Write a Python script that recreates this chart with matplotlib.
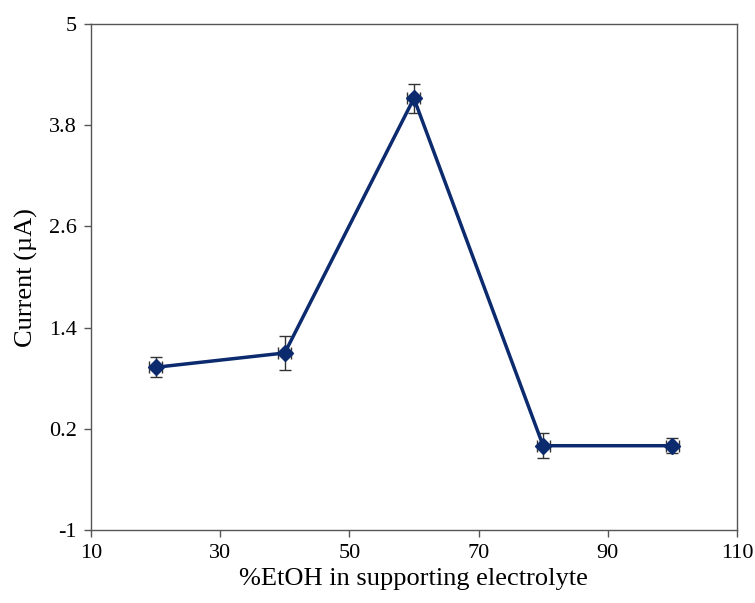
import matplotlib
matplotlib.use("Agg")
import matplotlib.pyplot as plt

# data
etoh = [20, 40, 60, 80, 100]
current = [0.93, 1.10, 4.12, 0.00, 0.00]
current_err = [0.12, 0.20, 0.17, 0.15, 0.09]
etoh_err = [1, 1, 1, 1, 1]

xticks = [10, 30, 50, 70, 90, 110]
yticks = [-1, 0.2, 1.4, 2.6, 3.8, 5]
ytick_labels = ['-1', '0.2', '1.4', '2.6', '3.8', '5']

plt.rcParams['font.family'] = ['Liberation Serif', 'DejaVu Serif']

fig = plt.figure(figsize=(7.55, 6.03), dpi=100)
ax = fig.add_axes([0.1205, 0.121, 0.8555, 0.839])

ax.errorbar(etoh, current, yerr=current_err, xerr=etoh_err, fmt='none',
            ecolor='#333333', elinewidth=1.0, capsize=4, capthick=1.0, zorder=2)
ax.plot(etoh, current, color='#0c2a6e', linewidth=2.5, marker='D',
        markersize=8, markerfacecolor='#0c2a6e', markeredgecolor='#0c2a6e',
        zorder=3)

ax.set_xlim(10, 110)
ax.set_ylim(-1, 5)
ax.set_xticks(xticks)
ax.set_yticks(yticks)
ax.set_yticklabels(ytick_labels)
ax.tick_params(direction='out', length=5, width=1, color='#555555',
               labelsize=16, pad=5)

for s in ax.spines.values():
    s.set_color('#555555')
    s.set_linewidth(1)

ax.set_xlabel('%EtOH in supporting electrolyte', fontsize=19, labelpad=4)
ax.set_ylabel('Current (\u00b5A)', fontsize=19, labelpad=8)

plt.savefig('out.png', dpi=100)
